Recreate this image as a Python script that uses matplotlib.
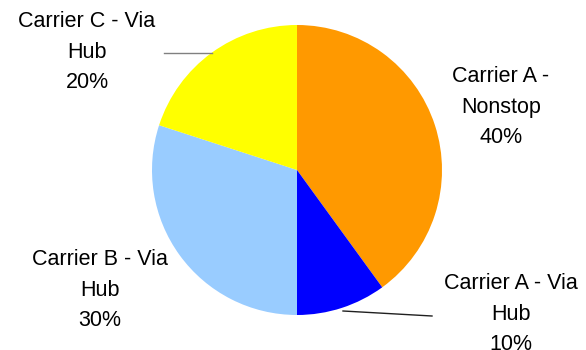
import matplotlib
matplotlib.use("Agg")
import matplotlib.pyplot as plt

labels = ["Carrier A -\nNonstop", "Carrier A - Via\nHub", "Carrier B - Via\nHub", "Carrier C - Via\nHub"]
values = [40, 10, 30, 20]
colors = ["#FF9900", "#0000FF", "#99CCFF", "#FFFF00"]

W, H = 586, 350
fig = plt.figure(figsize=(W/100, H/100), dpi=100)
ax = fig.add_axes([0, 0, 1, 1])

cx, cy, r = 297, H - 170, 145
ax.pie(values, colors=colors, startangle=90, counterclock=False,
       center=(cx, cy), radius=r, frame=True,
       wedgeprops=dict(linewidth=0))
ax.set_xlim(0, W)
ax.set_ylim(0, H)
ax.set_aspect("equal")
ax.axis("off")

label_pos = [(501, 107), (511, 314), (100, 290), (87, 52)]
total = sum(values)
for lab, v, (x, y) in zip(labels, values, label_pos):
    ax.text(x, H - y, f"{lab}\n{round(100*v/total)}%", ha="center", va="center",
            fontsize=15.5, family="Liberation Sans", linespacing=1.58, color="black")

ax.plot([164, 212], [H - 53, H - 53], color="#808080", lw=1)
ax.plot([343, 432], [H - 311, H - 316], color="#202020", lw=1)

fig.savefig("out.png", dpi=100)
